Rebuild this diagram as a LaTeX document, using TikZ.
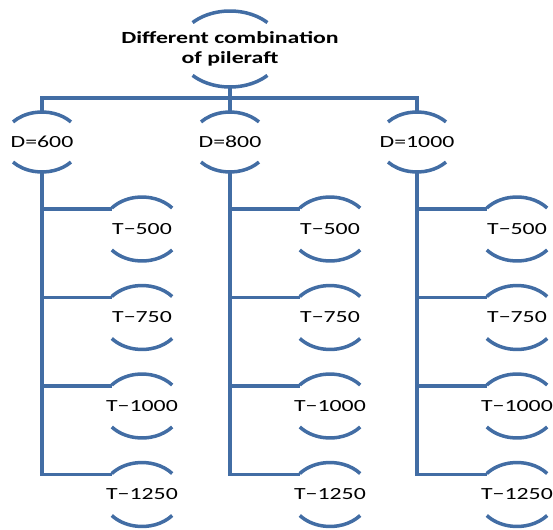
\documentclass[tikz,border=0pt]{standalone}
\usepackage{fontspec}
\setmainfont{Carlito}[FakeStretch=1.4]
\definecolor{smartblue}{RGB}{66,109,164}
% two arcs above and below a label: node, x radius, y radius, angle
\newcommand{\caparcs}[4]{%
  \draw[arcline] ([shift={({#2*cos(#4)},{#3*sin(#4)})}]#1.center)
    arc[start angle=#4, end angle=180-#4, x radius=#2pt, y radius=#3pt];
  \draw[arcline] ([shift={({#2*cos(#4)},{-#3*sin(#4)})}]#1.center)
    arc[start angle=-#4, end angle=-180+#4, x radius=#2pt, y radius=#3pt];
}
\tikzset{
  arcline/.style={smartblue, line width=3.5pt},
  busline/.style={smartblue, line width=3.5pt},
  rootbox/.style={minimum width=106pt, minimum height=76pt, inner sep=0pt,
    align=center, font=\fontsize{17}{20}\selectfont\bfseries},
  dbox/.style={minimum width=78pt, minimum height=61pt, inner sep=0pt,
    font=\fontsize{17}{20}\selectfont},
  tbox/.style={minimum width=80pt, minimum height=64pt, inner sep=0pt,
    font=\fontsize{17}{20}\selectfont},
}
\begin{document}
\begin{tikzpicture}[x=1pt,y=1pt]
  \useasboundingbox (0,0) rectangle (553,-529);
  \node[rootbox] (root) at (230,-49) {Different combination\\of pileraft};
  \caparcs{root}{52}{38}{44}
  \coordinate (bus) at (230,-98);
  \foreach \c/\x/\d in {1/42/600, 2/230/800, 3/417/1000}{
    \node[dbox] (d\c) at (\x,-142) {D=\d};
    \caparcs{d\c}{39}{30}{42}
    \foreach \r/\t in {1/500, 2/750, 3/1000, 4/1250}{
      \pgfmathsetmacro{\ty}{-229-88.5*(\r-1)}
      \node[tbox] (t\c\r) at (\x+100,\ty) {T−\t};
      \caparcs{t\c\r}{40}{32}{41}
      \coordinate (j\c\r) at ([shift={(-30,20)}]t\c\r.center);
    }
    \foreach \r in {1,2,3}
      \draw[busline] (d\c.south |- j\c\r) -- (j\c\r);
    \draw[busline] (d\c.south) |- (j\c4);
  }
  \draw[busline] (root.south) -- (bus);
  \draw[busline] (d1.north) |- (d3.north |- bus) -- (d3.north);
  \draw[busline] (d2.north) -- (d2.north |- bus);
\end{tikzpicture}
\end{document}
